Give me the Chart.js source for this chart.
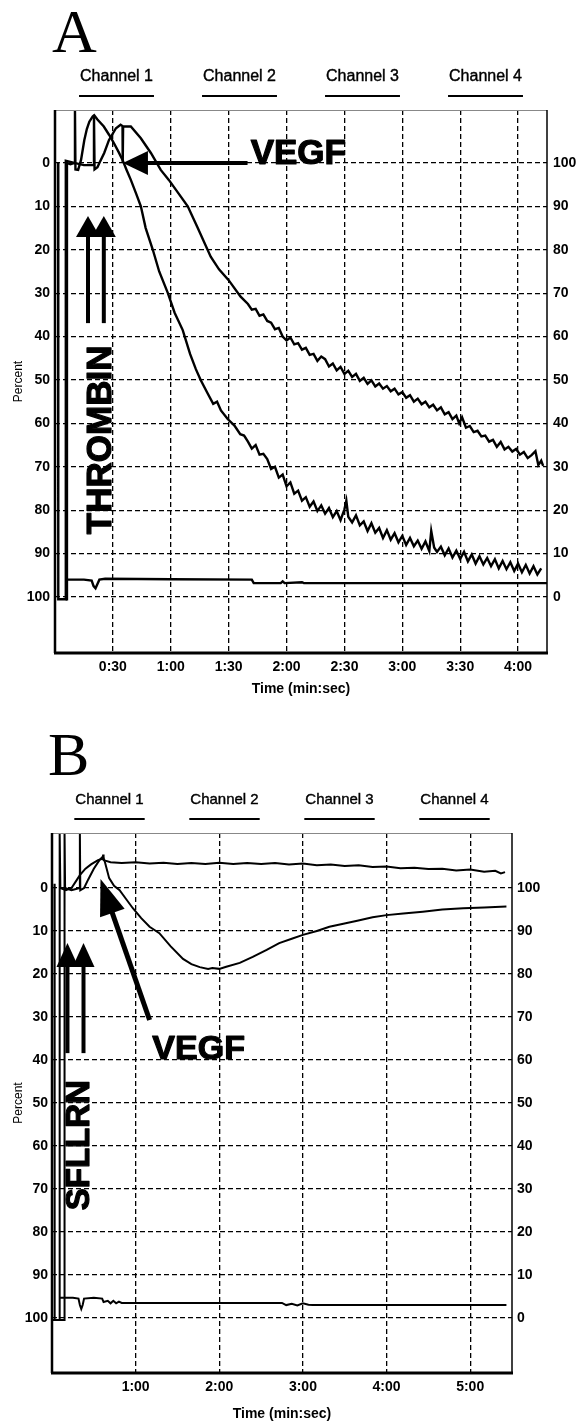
<!DOCTYPE html>
<html lang="en">
<head>
<meta charset="UTF-8">
<title>Thrombin / SFLLRN and VEGF traces</title>
<script src="https://cdn.jsdelivr.net/npm/chart.js"></script>
<style>
    body { margin: 0; background: #fff; }
    canvas { position: absolute; left: 0; }
    #panelA { top: 0; }
    #panelB { top: 705px; }
</style>
</head>
<body>
<canvas id="panelA" width="581" height="700"></canvas>
<canvas id="panelB" width="581" height="718"></canvas>
<script>
// time in seconds, value in percent (left axis, 0 at top)
const percentTicks = [0, 10, 20, 30, 40, 50, 60, 70, 80, 90, 100];
const aTimeTicks = [30, 60, 90, 120, 150, 180, 210, 240];
const bTimeTicks = [60, 120, 180, 240, 300];
const channelNames = ['Channel 1', 'Channel 2', 'Channel 3', 'Channel 4'];

// panel A: thrombin then VEGF
const aFast = [[1.6,0],[1.7,100.5],[5.8,100.5],[6.2,0],[8,0.3],[10.2,0],[10.35,-12.2],[10.6,1.5],[12,1.6],[13.5,-0.7],[15.2,-5.3],[16.5,-7.8],[17.8,-9.5],[19.5,-10.7],[20.3,-11],[22,-10],[25.3,-8.4],[28,-6.5],[30.5,-4.6],[33,-2.5],[35,-0.7],[37,1.5],[39.3,3.9],[42,7],[44.5,10],[47,15],[50.7,20],[54,25],[58.5,30],[62,34.5],[66.2,38.5],[70,44],[73,47.5],[75.5,50],[79,53],[82,55.5],[84,55],[86,57],[89.5,59],[93,60.5],[96,62.5],[98,62.8],[100,64.2],
    [102,65.8],[104,65],[106,67.2],[108,67],[110,68.2],[112,70.5],[114,70],[116,72.5],[118,71.8],[120,74.5],[122,73.6],[124,76.2],[126,75.5],[128,77.8],[130,77],[132,79.2],[134,78],[136,80.2],[138,78.9],[140,80.8],[142,79.5],[144,81.6],[146,80.2],[148,82.3],[150,79.8],[151,77.8],[152,81.5],[154,82.8],[156,81.2],[158,83.5],[160,82.6],[162,84.8],[164,83],[166,85.2],[168,84.1],[170,86.4],[172,84.6],[174,86.8],[176,85.3],[178,87.4],[180,85.9],[182,88],[184,86.4],[186,88.3],[188,87],[190,88.9],[192,87.2],[194,89.4],[195,84.8],[196.5,88.6],[198,89.6],[200,88.4],[202,90.4],[204,88.8],[206,90.9],[208,89.3],[210,91.2],[212,89.6],[214,91.8],[216,90.2],[218,92.3],[220,90.6],[222,92.5],[224,91],[226,92.9],[228,91.3],[230,93.4],[232,91.7],[234,93.6],[236,92],[238,94],[240,92.3],[242,94.3],[244,92.6],[246,94.6],[248,92.9],[250,94.8],[252,93.4]];
const aSlow = [[5.5,100.5],[5.6,-0.5],[10,0],[15,0.5],[20,0.5],[20.2,-11],[20.5,1.5],[22,1],[23,0],[25.5,-2.3],[28,-5.3],[31.6,-8],[34,-8.8],[35,-8.5],[35.1,0],[35.3,-8.4],[39.3,-8.4],[44.5,-5.7],[49.7,-2.3],[54.8,1.6],[59,3.9],[64,7],[68.8,10],[74,15],[80.7,21.6],[85,24.5],[90,27],[96.2,30.8],[100,32.5],
    [102,33.8],[104,33.6],[106,35.2],[108,34.9],[110,36.4],[112,36.8],[114,38.3],[116,38],[118,40],[120,40.9],[122,40.2],[124,41.8],[126,41.5],[128,43],[130,42.6],[132,44.2],[134,44],[136,45.6],[138,44.6],[140,45.2],[142,46.9],[144,46.2],[146,47.8],[148,47],[150,48.6],[152,47.9],[154,49.3],[156,48.6],[158,50.2],[160,49.5],[162,50.9],[164,50.1],[166,51.5],[168,50.8],[170,52],[172,51.4],[174,52.6],[176,52],[178,53.3],[180,52.8],[182,54.1],[184,53.5],[186,55],[188,54.3],[190,55.6],[192,55],[194,56.3],[196,55.7],[198,57],[200,56.3],[202,57.9],[204,57.4],[206,59],[208,58.2],[209.5,60],[211,58.6],[213,61],[215,60.6],[217,62],[219,61.7],[221,63],[223,62.8],[225,64.2],[227,63.8],[229,65.4],[231,64.3],[233,66],[235,65.4],[237,66.5],[239,65.9],[241,67.2],[243,66.6],[245,68],[247,67.3],[249,66.4],[250.5,69.6],[252,68.6],[253,69.8]];
const aBase = [[5.8,96],[10,96],[15,96],[19,96.2],[20,97.5],[21,98],[22,97],[23,96],[26,95.8],[60,95.9],[102,96],[103,96.8],[117,96.8],[118,96.4],[119,96.8],[128,96.6],[129,96.8],[255,96.8]];

// panel B: SFLLRN then VEGF
const bPlateau = [[1.8,-1],[1.9,100.5],[5.3,100.5],[5.5,-12.8],[6,0],[10,0.5],[14,0],[17,-1.5],[20,-3],[24,-4.5],[28,-5.5],[33,-6.5],[36.5,-6.8],[36.7,-7.8],[37,-6.5],[42,-6],[50,-5.8],[60,-6],[70,-5.7],[80,-5.9],[90,-5.6],[100,-5.8],[110,-5.6],[120,-5.9],[130,-5.6],[140,-5.8],[150,-5.6],[160,-5.8],[170,-5.5],[180,-5.7],[190,-5.3],[200,-5.5],[210,-5.1],[220,-5.3],[230,-4.9],[240,-5],[250,-4.6],[260,-4.7],[270,-4.4],[280,-4.5],[290,-4.1],[300,-4.3],[310,-3.8],[318,-4],[322,-3.4],[325,-3.7]];
const bDip = [[0,100.5],[8.8,100.5],[9,-12.8],[9.4,0],[14,0.5],[19.8,0],[20,-12.8],[20.3,0.5],[23,0],[26,-2],[30,-4.5],[34,-6.5],[36.5,-7.3],[38,-6],[41,-2.3],[44.5,-0.5],[48.5,0.5],[53,2.5],[58,4.7],[64,7],[70,9],[77,10.5],[85,13.5],[94,16.5],[100,17.7],[106,18.4],[112,18.8],[115,18.6],[120,18.8],[125,18.3],[134.7,17.4],[144,16],[154,14.4],[163,12.8],[172,11.8],[180,10.9],[190,10],[199,9],[209,8.3],[219,7.6],[230,6.8],[240,6.3],[252,5.9],[266,5.5],[280,5],[295,4.7],[310,4.5],[326,4.3]];
const bBase = [[5.5,95.3],[15,95.3],[19,95.5],[20,97],[21,97.9],[22,97],[23,95.5],[30,95.3],[36,95.5],[37,96.3],[40,96],[42,96.6],[44,96],[46,96.6],[48,96.2],[50,96.5],[100,96.5],[165,96.5],[168,97],[172,96.7],[176,97.1],[180,96.6],[184,96.9],[187,97],[326,97]];

// annotation anchors (data units)
const aNotes = {
    vegf: { tip: [35.2, 0], tail: [99.8, 0], label: [101.4, -2] },
    agonist: { xs: [17.1, 25.3], tip: 12.2, tail: 36.9, label: [23.8, 63.8], text: 'THROMBIN' }
};
const bNotes = {
    vegf: { tip: [34.8, -2.1], tail: [70, 30.7], label: [105.2, 37.7] },
    agonist: { xs: [11.1, 22.6], tip: 12.8, tail: 38.4, label: [19.8, 59.8], text: 'SFLLRN' }
};

const FONT = "'Liberation Sans', Arial, sans-serif";

function mmss(v) {
    return Math.floor(v / 60) + ':' + String(v % 60).padStart(2, '0');
}

function arrow(ctx, x0, y0, x1, y1, shaft, headLen, headHalf) {
    const ang = Math.atan2(y1 - y0, x1 - x0);
    const c = Math.cos(ang), s = Math.sin(ang);
    const bx = x1 - headLen * c, by = y1 - headLen * s;
    ctx.lineWidth = shaft;
    ctx.beginPath();
    ctx.moveTo(x0, y0);
    ctx.lineTo(bx + c, by + s);
    ctx.stroke();
    ctx.beginPath();
    ctx.moveTo(x1, y1);
    ctx.lineTo(bx + headHalf * s, by - headHalf * c);
    ctx.lineTo(bx - headHalf * s, by + headHalf * c);
    ctx.closePath();
    ctx.fill();
}

// heavy label: fill plus a thin stroke so it reads like the black print type
function heavyText(ctx, text, x, y) {
    ctx.lineWidth = 1.2;
    ctx.lineJoin = 'round';
    ctx.fillText(text, x, y);
    ctx.strokeText(text, x, y);
}

function makeDecor(cfg) {
    return {
        id: 'decor',
        afterDatasetsDraw(chart) {
            const { ctx, scales: { x, y } } = chart;
            const n = cfg.notes;
            ctx.save();
            ctx.fillStyle = '#000';
            ctx.strokeStyle = '#000';

            // VEGF arrow + label
            arrow(ctx, x.getPixelForValue(n.vegf.tail[0]), y.getPixelForValue(n.vegf.tail[1]),
                x.getPixelForValue(n.vegf.tip[0]), y.getPixelForValue(n.vegf.tip[1]),
                cfg.vegfShaft, cfg.vegfHead, cfg.vegfHalf);
            ctx.font = 'bold ' + cfg.vegfSize + 'px ' + FONT;
            ctx.textAlign = cfg.vegfAlign;
            ctx.textBaseline = 'middle';
            heavyText(ctx, 'VEGF', x.getPixelForValue(n.vegf.label[0]), y.getPixelForValue(n.vegf.label[1]));

            // agonist arrows + rotated label
            n.agonist.xs.forEach(t => {
                const px = x.getPixelForValue(t);
                arrow(ctx, px, y.getPixelForValue(n.agonist.tail), px, y.getPixelForValue(n.agonist.tip),
                    4, cfg.agHead, cfg.agHalf);
            });
            ctx.save();
            ctx.translate(x.getPixelForValue(n.agonist.label[0]), y.getPixelForValue(n.agonist.label[1]));
            ctx.rotate(-Math.PI / 2);
            ctx.font = 'bold ' + cfg.agSize + 'px ' + FONT;
            ctx.textAlign = 'center';
            heavyText(ctx, n.agonist.text, 0, 0);
            ctx.restore();
            ctx.restore();
        },
        afterDraw(chart) {
            const { ctx, chartArea: ca } = chart;
            ctx.save();
            // frame
            ctx.strokeStyle = '#888';
            ctx.lineWidth = 1;
            ctx.beginPath(); ctx.moveTo(ca.left, ca.top + 0.5); ctx.lineTo(ca.right, ca.top + 0.5); ctx.stroke();
            ctx.strokeStyle = '#000';
            ctx.lineWidth = 1.5;
            ctx.beginPath(); ctx.moveTo(ca.right, ca.top); ctx.lineTo(ca.right, ca.bottom); ctx.stroke();
            ctx.lineWidth = 2.5;
            ctx.beginPath(); ctx.moveTo(ca.left, ca.top); ctx.lineTo(ca.left, ca.bottom); ctx.stroke();
            ctx.lineWidth = 3;
            ctx.beginPath(); ctx.moveTo(ca.left - 1, ca.bottom); ctx.lineTo(ca.right + 1, ca.bottom); ctx.stroke();

            // panel letter
            ctx.fillStyle = '#000';
            ctx.font = '62px "Liberation Serif", "Times New Roman", serif';
            ctx.textAlign = 'left';
            ctx.textBaseline = 'alphabetic';
            ctx.fillText(cfg.letter, ca.left + cfg.letterDx, ca.top - 58);

            // channel labels at quarter centres, underlined
            ctx.font = cfg.chanSize + 'px ' + FONT;
            ctx.textAlign = 'center';
            ctx.textBaseline = 'middle';
            const w = (ca.right - ca.left) / 4;
            channelNames.forEach((name, i) => {
                const cx = ca.left + (i + 0.5) * w;
                ctx.lineWidth = 0.4;
                ctx.fillText(name, cx, ca.top - 33);
                ctx.strokeText(name, cx, ca.top - 33);
                const tw = ctx.measureText(name).width + 2;
                ctx.lineWidth = 2;
                ctx.beginPath();
                ctx.moveTo(cx - tw / 2, ca.top - 14);
                ctx.lineTo(cx + tw / 2, ca.top - 14);
                ctx.stroke();
            });
            ctx.restore();
        }
    };
}

function trace(points, width) {
    return {
        data: points.map(p => ({ x: p[0], y: p[1] })),
        showLine: true,
        borderColor: '#000',
        borderWidth: width,
        pointRadius: 0,
        tension: 0,
        fill: false
    };
}

function makePanel(id, cfg) {
    const tickFont = { family: FONT, size: 14, weight: 'bold' };
    new Chart(document.getElementById(id), {
        type: 'scatter',
        data: { datasets: cfg.series.map(s => trace(s, cfg.lineWidth)) },
        options: {
            responsive: false,
            animation: false,
            layout: { padding: { top: cfg.padTop, left: 0, right: 0, bottom: 0 } },
            plugins: { legend: { display: false }, tooltip: { enabled: false } },
            scales: {
                x: {
                    type: 'linear',
                    min: 0,
                    max: cfg.xMax,
                    afterBuildTicks: s => { s.ticks = cfg.timeTicks.map(v => ({ value: v })); },
                    afterFit: s => { s.height = cfg.bottomH; },
                    ticks: { callback: v => mmss(v), font: tickFont, color: '#000', padding: 6, maxRotation: 0 },
                    grid: { color: '#000', lineWidth: 1.3, drawTicks: false },
                    border: { display: false, dash: [5, 3] },
                    title: { display: true, text: 'Time (min:sec)', color: '#000',
                        font: { family: FONT, size: 14, weight: 'bold' }, padding: { top: 0, bottom: cfg.titlePadB } }
                },
                y: {
                    position: 'left',
                    reverse: true,
                    min: cfg.yMin,
                    max: cfg.yMax,
                    afterBuildTicks: s => { s.ticks = percentTicks.map(v => ({ value: v })); },
                    afterFit: s => { s.width = cfg.leftW; },
                    ticks: { font: tickFont, color: '#000', padding: cfg.leftPad },
                    grid: { color: '#000', lineWidth: 1.3, drawTicks: false },
                    border: { display: false, dash: [5, 3] },
                    title: { display: true, text: 'Percent', color: '#000',
                        font: { family: FONT, size: 12 }, padding: { top: 11, bottom: 0 } }
                },
                y2: {
                    position: 'right',
                    min: 100 - cfg.yMax,
                    max: 100 - cfg.yMin,
                    afterBuildTicks: s => { s.ticks = percentTicks.map(v => ({ value: v })); },
                    afterFit: s => { s.width = cfg.rightW; },
                    ticks: { font: tickFont, color: '#000', padding: cfg.rightPad },
                    grid: { display: false, drawTicks: false },
                    border: { display: false }
                }
            }
        },
        plugins: [makeDecor(cfg)]
    });
}

makePanel('panelA', {
    series: [aBase, aSlow, aFast],
    lineWidth: 2.4,
    xMax: 255, yMin: -12.2, yMax: 112.9,
    timeTicks: aTimeTicks,
    padTop: 110, leftW: 55, rightW: 34, bottomH: 47, titlePadB: 2,
    leftPad: 5, rightPad: 6,
    notes: aNotes, letter: 'A', letterDx: -3, chanSize: 16,
    vegfShaft: 4, vegfHead: 25, vegfHalf: 12, vegfSize: 35, vegfAlign: 'left',
    agHead: 21, agHalf: 12, agSize: 35
});

makePanel('panelB', {
    series: [bBase, bDip, bPlateau],
    lineWidth: 2,
    xMax: 330, yMin: -12.8, yMax: 112.8,
    timeTicks: bTimeTicks,
    padTop: 128, leftW: 52, rightW: 69, bottomH: 50, titlePadB: 0,
    leftPad: 4, rightPad: 5,
    notes: bNotes, letter: 'B', letterDx: -4, chanSize: 15,
    vegfShaft: 5, vegfHead: 36, vegfHalf: 13, vegfSize: 34, vegfAlign: 'center',
    agHead: 24, agHalf: 11, agSize: 33
});
</script>
</body>
</html>
